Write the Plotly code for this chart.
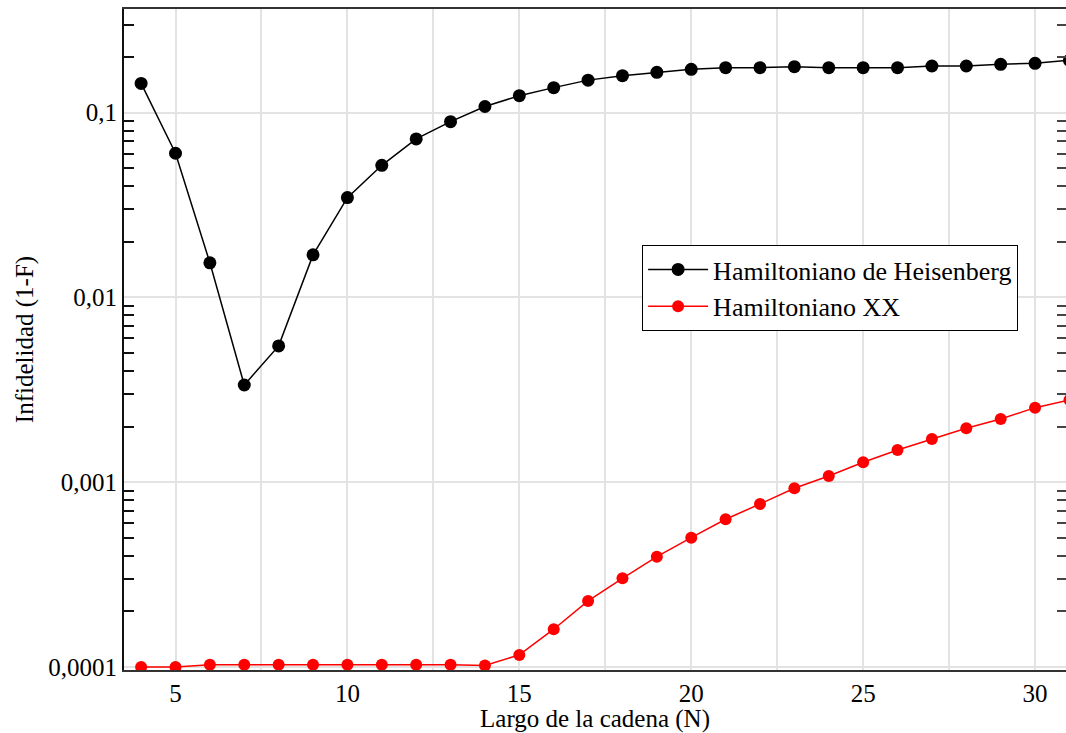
import plotly.graph_objects as go

# ---- data ----
N = list(range(4, 32))
heisenberg = [0.144, 0.0603, 0.0154, 0.00336, 0.00547, 0.0170, 0.0347, 0.0519, 0.0721,
              0.0894, 0.108, 0.1236, 0.1366, 0.150, 0.1586, 0.1654, 0.1717, 0.1752,
              0.1752, 0.1774, 0.1752, 0.1752, 0.1752, 0.1789, 0.1789, 0.1827, 0.185, 0.192]
xx = [1.00e-4, 1.00e-4, 1.03e-4, 1.03e-4, 1.03e-4, 1.03e-4, 1.03e-4, 1.03e-4, 1.03e-4,
      1.03e-4, 1.02e-4, 1.163e-4, 1.602e-4, 2.279e-4, 3.023e-4, 3.957e-4, 5.013e-4,
      6.307e-4, 7.63e-4, 9.28e-4, 1.082e-3, 1.283e-3, 1.495e-3, 1.715e-3, 1.960e-3,
      2.200e-3, 2.533e-3, 2.79e-3]

series_names = ["Hamiltoniano de Heisenberg", "Hamiltoniano XX"]
y_tickvals = [1e-4, 1e-3, 1e-2, 1e-1]
y_ticktext = ["0,0001", "0,001", "0,01", "0,1"]
x_tickvals = [5, 10, 15, 20, 25, 30]
x_ticktext = ["5", "10", "15", "20", "25", "30"]
minor_y = [k * 10.0 ** e for e in range(-5, 0) for k in range(2, 10)]

FONT = "'Liberation Serif', 'Times New Roman', Times, serif"
yrange = [-4.016, -0.439]

fig = go.Figure()
fig.add_trace(go.Scatter(x=N, y=heisenberg, mode="lines+markers", name=series_names[0],
                         line=dict(color="#000000", width=1.5),
                         marker=dict(color="#000000", size=13, symbol="circle")))
fig.add_trace(go.Scatter(x=N, y=xx, mode="lines+markers", name=series_names[1],
                         line=dict(color="#ff0000", width=1.5),
                         marker=dict(color="#ff0000", size=12, symbol="circle")))
# invisible anchor for right-side tick axis
fig.add_trace(go.Scatter(x=[], y=[], yaxis="y2", showlegend=False, hoverinfo="skip"))

fig.update_layout(
    width=1066, height=733,
    margin=dict(l=124, r=0, t=9, b=63),
    paper_bgcolor="white", plot_bgcolor="white",
    font=dict(family=FONT, size=25, color="black"),
    xaxis=dict(
        range=[3.502, 30.90],
        tickmode="array", tickvals=x_tickvals, ticktext=x_ticktext,
        ticks="", showgrid=True, gridcolor="#e3e3e3", gridwidth=1.5,
        minor=dict(dtick=2.5, tick0=0, showgrid=True, gridcolor="#e3e3e3", gridwidth=1.5, ticks=""),
        showline=True, linecolor="#333333", linewidth=2, mirror=True,
        zeroline=False,
        title=dict(text="Largo de la cadena (N)", font=dict(family=FONT, size=25), standoff=2),
        tickfont=dict(family=FONT, size=25),
    ),
    yaxis=dict(
        type="log", range=yrange,
        tickmode="array", tickvals=y_tickvals, ticktext=y_ticktext,
        ticks="", showgrid=True, gridcolor="#e3e3e3", gridwidth=1.5,
        minor=dict(tickmode="array", tickvals=minor_y, ticks="inside", ticklen=10,
                   tickcolor="#111111", tickwidth=1.5, showgrid=False),
        showline=True, linecolor="#111111", linewidth=2,
        zeroline=False,
        title=dict(text="Infidelidad (1-F)", font=dict(family=FONT, size=25), standoff=8),
        tickfont=dict(family=FONT, size=25),
    ),
    yaxis2=dict(
        type="log", range=yrange, overlaying="y", side="right", anchor="x",
        tickmode="array", tickvals=y_tickvals, showticklabels=False,
        ticks="", showgrid=False, showline=False, zeroline=False,
        minor=dict(tickmode="array", tickvals=minor_y, ticks="inside", ticklen=9,
                   tickcolor="#444444", tickwidth=1.5, showgrid=False),
    ),
    legend=dict(
        x=0.55, y=0.643, xanchor="left", yanchor="top",
        bgcolor="white", bordercolor="black", borderwidth=1,
        font=dict(family=FONT, size=26, color="black"),
        itemwidth=60,
    ),
    showlegend=True,
)

fig.write_html("out.html")
